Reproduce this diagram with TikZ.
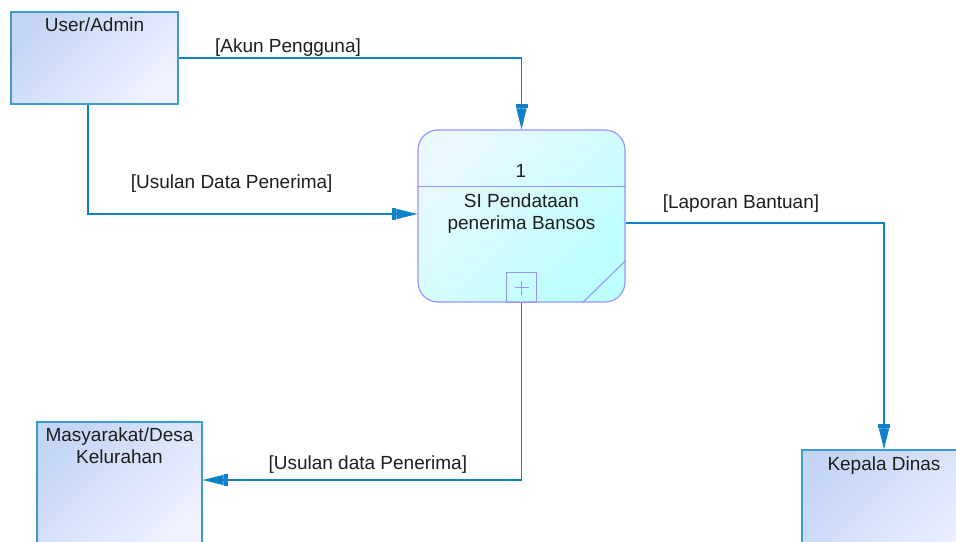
\documentclass[tikz,border=0pt]{standalone}
\usepackage{fontspec}
\setmainfont{Liberation Sans}
\usetikzlibrary{arrows.meta}
\definecolor{flow}{RGB}{16,128,200}
\definecolor{entline}{RGB}{60,155,210}
\definecolor{entA}{RGB}{196,213,245}
\definecolor{entB}{RGB}{240,242,255}
\definecolor{procline}{RGB}{150,150,255}
\definecolor{procA}{RGB}{234,248,255}
\definecolor{procB}{RGB}{188,255,255}
\definecolor{txt}{RGB}{30,30,30}
\tikzset{
  entity/.style={draw=entline, line width=1.3pt, top color=entA, bottom color=entB, shading angle=45, inner sep=0pt},
  proc/.style={draw=procline, line width=1.2pt, top color=procA, bottom color=procB, shading angle=45, rounded corners=20pt, minimum width=207pt, minimum height=172pt, inner sep=0pt},
  procdeco/.style={draw=procline, line width=1.1pt},
  entlabel/.style={anchor=north, inner sep=0pt, yshift=-6pt, align=center, text=txt},
  flowline/.style={draw=flow, line width=1.3pt, -{Rectangle[length=4pt,width=12pt,sep=0pt]Triangle[length=21pt,width=10pt,sep=0pt]}},
  flowlabel/.style={anchor=base, inner sep=0pt, text=txt},
  every node/.append style={font=\fontsize{19}{22}\selectfont}
}
\begin{document}
\begin{tikzpicture}[x=1pt,y=-1pt]
\useasboundingbox (0,0) rectangle (956,541);
\clip (0,0) rectangle (956,541);
\fill[white] (0,0) rectangle (956,541);

% entities
\node[entity, minimum width=167pt, minimum height=92pt,
  label={[entlabel]north:User/Admin}] (u) at (94.5,58) {};
\node[entity, minimum width=165pt, minimum height=130pt,
  label={[entlabel]north:Masyarakat/Desa\\Kelurahan}] (m) at (119.5,487) {};
\node[entity, minimum width=180pt, minimum height=130pt] (k) at (892,515) {};
\node[anchor=north, inner sep=0pt, text=txt] (ktext) at (884,457) {Kepala Dinas};

% process
\node[proc] (p) at (521.5,216) {};
\draw[procdeco] ([yshift=-57pt]p.north west) -- ([yshift=-57pt]p.north east);
\node[anchor=base, inner sep=0pt, text=txt] (pnum) at (521,177.5) {1};
\node[anchor=north, inner sep=0pt, align=center, text=txt] (pname) at (521.5,194) {SI Pendataan\\penerima Bansos};
\draw[procdeco] ([xshift=-15pt]p.south) rectangle ([xshift=15pt,yshift=30pt]p.south);
\draw[procdeco, line width=0.9pt] ([yshift=15pt,xshift=-7pt]p.south) -- ([yshift=15pt,xshift=7pt]p.south);
\draw[procdeco, line width=0.9pt] ([yshift=8pt]p.south) -- ([yshift=22pt]p.south);
\draw[procdeco] ([xshift=-43pt]p.south east) -- ([yshift=42pt]p.south east);

% flows
\draw[flowline] (u.east) -| (p.north);
\draw[flowline] ([xshift=-6.5pt]u.south) |- ([yshift=2pt]p.west);
\draw[flowline] ([yshift=-7pt]p.east) -| ([xshift=-8pt]k.north);
\draw[flowline] (p.south) |- ([yshift=7pt]m.east);

% flow labels
\node[flowlabel] (l1) at (288,52.5) {[Akun Pengguna]};
\node[flowlabel] (l2) at (231.7,188.7) {[Usulan Data Penerima]};
\node[flowlabel] (l3) at (741,208.7) {[Laporan Bantuan]};
\node[flowlabel] (l4) at (367.8,469.5) {[Usulan data Penerima]};
\end{tikzpicture}
\end{document}
